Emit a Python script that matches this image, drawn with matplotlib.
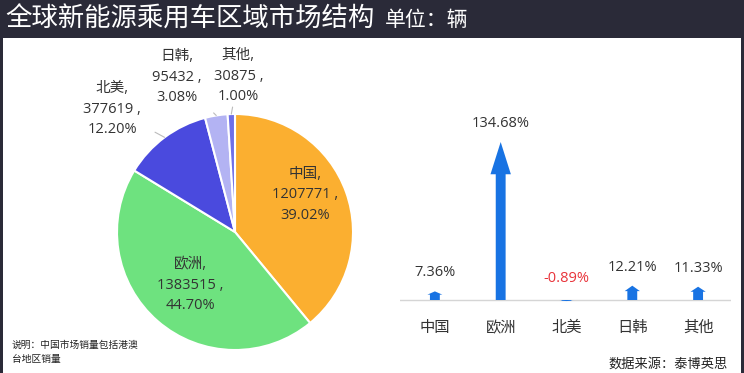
import matplotlib.pyplot as plt
from matplotlib.patches import Rectangle, Polygon
import numpy as np

plt.rcParams['font.family'] = ['Noto Sans CJK SC', 'DejaVu Sans']
num_font = ['Open Sans', 'Noto Sans CJK SC', 'DejaVu Sans']

# data
regions = ['中国', '欧洲', '北美', '日韩', '其他']
sales = [1207771, 1383515, 377619, 95432, 30875]
shares = ['39.02%', '44.70%', '12.20%', '3.08%', '1.00%']
growth = [7.36, 134.68, -0.89, 12.21, 11.33]

pie_colors = ['#FBAF30', '#6EE27F', '#4A4ADE', '#B3B3F3', '#6F6FE8']
arrow_color = '#1873E3'

W, H = 744, 373
fig = plt.figure(figsize=(W / 100, H / 100), dpi=100)
fig.patch.set_facecolor('#2A2A38')

# white panel
fig.add_artist(Rectangle((3 / W, 0), 738 / W, 335 / H, transform=fig.transFigure,
                         facecolor='white', edgecolor='none', zorder=0))

fig.text(5 / W, 1 - 19 / H, '全球新能源乘用车区域市场结构', color='white', fontsize=19,
         va='center', ha='left')
fig.text(385 / W, 1 - 20 / H, '单位：辆', color='white', fontsize=15, va='center', ha='left')

# ---------------- pie ----------------
cx, cy, r = 235, 232, 118
ax1 = fig.add_axes([(cx - r) / W, (H - cy - r) / H, 2 * r / W, 2 * r / H])
wedges, _ = ax1.pie(sales, colors=pie_colors, startangle=90, counterclock=False,
                    wedgeprops=dict(edgecolor='white', linewidth=1.5))
ax1.set_xlim(-1, 1)
ax1.set_ylim(-1, 1)
ax1.set_aspect('equal')

# label placement: (angle deg, radius) of text, leader line or not
label_pos = [(28, 0.67, False), (-130, 0.59, False), (135, 1.47, True),
             (110.5, 1.40, True), (88.8, 1.32, True)]
for w, name, val, sh, (ang, rad, lead) in zip(wedges, regions, sales, shares, label_pos):
    txt = f'{name},\n{val} ,\n{sh}'
    tx, ty = rad * np.cos(np.radians(ang)), rad * np.sin(np.radians(ang))
    if lead:
        mid = np.radians((w.theta1 + w.theta2) / 2)
        ax1.annotate(txt, xy=(np.cos(mid), np.sin(mid)), xytext=(tx, ty),
                     ha='center', va='center', fontsize=10.5, color='#333333',
                     linespacing=1.5, family=num_font,
                     arrowprops=dict(arrowstyle='-', color='#BBBBBB', lw=0.8,
                                     shrinkA=9, shrinkB=0))
    else:
        ax1.text(tx, ty, txt, ha='center', va='center', fontsize=10.5,
                 color='#333333', linespacing=1.5, family=num_font)

# ---------------- arrows ----------------
ymax, ymin = 162, -3
base_px = 300
scale = 158 / 134.68
top_px = base_px - ymax * scale
bot_px = base_px - ymin * scale
ax2 = fig.add_axes([400 / W, (H - bot_px) / H, 331 / W, (bot_px - top_px) / H])
ax2.set_xlim(-0.53, 4.5)
ax2.set_ylim(ymin, ymax)
for s in ax2.spines.values():
    s.set_visible(False)
ax2.set_yticks([])
ax2.set_xticks(range(len(regions)))
ax2.set_xticklabels(regions, fontsize=11, color='#333333')
ax2.tick_params(axis='x', length=0, pad=11)
ax2.axhline(0, color='#D5D5D5', lw=1, zorder=1)

for i, g in enumerate(growth):
    v = abs(g)
    sign = 1 if g >= 0 else -1
    head_len = min(27.5, 0.38 * v)
    head_w = min(0.31, 0.22 + 0.001 * v) / 2
    shaft_w = 0.15 / 2
    pts = [(i - shaft_w, 0), (i + shaft_w, 0),
           (i + shaft_w, sign * (v - head_len)), (i + head_w, sign * (v - head_len)),
           (i, g), (i - head_w, sign * (v - head_len)),
           (i - shaft_w, sign * (v - head_len))]
    ax2.add_patch(Polygon(pts, closed=True, facecolor=arrow_color, edgecolor='none', zorder=2))
    ax2.annotate(f'{g:.2f}%', xy=(i, max(g, 0)), xytext=(0, 8 if g >= 0 else 10),
                 textcoords='offset points', ha='center', va='bottom', fontsize=10.5,
                 family=num_font, color='#333333' if g >= 0 else '#E8333A')

# footnotes
fig.text(12 / W, 1 - 352 / H, '说明：中国市场销量包括港澳\n台地区销量', fontsize=7,
         color='#222222', va='center', ha='left', linespacing=1.45)
fig.text(728 / W, 1 - 364 / H, '数据来源：泰博英思', fontsize=9.5, color='#222222',
         va='center', ha='right')

fig.savefig('out.png', dpi=100, facecolor=fig.get_facecolor())
